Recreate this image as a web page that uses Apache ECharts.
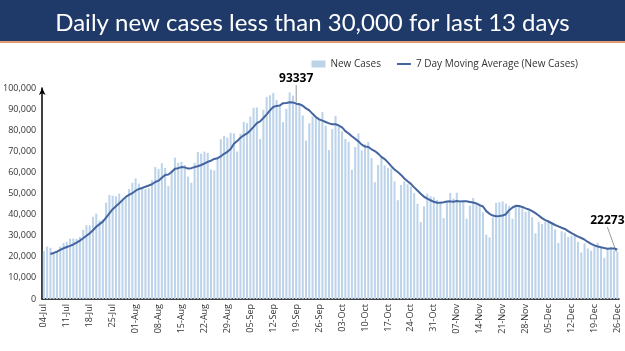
<!DOCTYPE html>
<html>
<head>
<meta charset="utf-8">
<script src="https://cdn.jsdelivr.net/npm/echarts@6/dist/echarts.min.js"></script>
<style>
  html, body { margin: 0; padding: 0; background: #fff; }
  #chart { width: 625px; height: 351px; }
</style>
</head>
<body>
<div id="chart"></div>
<script>
// daily new cases, 04-Jul .. 26-Dec
const julCases = [22771, 24850, 24248, 22252, 22752, 24879, 26506, 27114, 28637, 28701, 28498, 29429, 32695, 34956,
  34884, 38902, 40425, 37148, 37724, 45720, 49310, 48916, 48661, 49931, 47703, 48513, 52123, 55078];
const augCases = [57118, 54735, 52972, 52050, 52509, 56282, 62538, 61537, 64399, 62064, 53601, 60963, 66999, 64553,
  65002, 63490, 57981, 55079, 64531, 69652, 68898, 69878, 69239, 61408, 60975, 67151, 75760, 77266, 76472, 78761, 78512];
const sepCases = [69921, 78357, 83883, 83341, 86432, 90632, 90802, 75809, 89706, 95735, 96551, 97570, 94372, 92071,
  83809, 90123, 97894, 96424, 93337, 92605, 86961, 75083, 83347, 86508, 86052, 85362, 88600, 82170, 70589, 80472];
const octCases = [86821, 81484, 79476, 75829, 74442, 61267, 72049, 78524, 70496, 73272, 74383, 66732, 55342, 63509,
  67708, 63371, 62212, 61871, 55722, 46790, 54044, 55839, 54366, 53370, 50129, 45148, 36469, 43893, 49881, 48648, 48268];
const novCases = [46963, 45231, 38310, 46253, 50210, 47638, 50356, 45674, 45903, 38073, 44281, 47905, 44879, 44684,
  41100, 30548, 29163, 38617, 45576, 45882, 46232, 45209, 44059, 37975, 44376, 44489, 43082, 41322, 41810, 38772];
const decCases = [31118, 36604, 35551, 36595, 36652, 36011, 32981, 26567, 32080, 31521, 29398, 30006, 30254, 27071,
  22065, 26382, 24010, 22890, 25152, 26624, 24337, 19556, 23950, 24712, 23067, 22273];

// 7 day moving average (starts 06-Jul)
const julAvg = [null, null, 21299, 21832, 22418, 23236, 24037, 24657, 25198, 25834, 26727, 27681, 28797, 30004,
  31114, 32581, 34256, 35491, 36676, 38537, 40588, 42592, 43986, 45344, 46852, 48393, 49308, 50132];
const augAvg = [51304, 52172, 52606, 53227, 53798, 54392, 55458, 56089, 57470, 58768, 58990, 60198, 61729, 62017,
  62512, 62382, 61798, 62010, 62519, 62898, 63519, 64216, 65037, 65526, 66369, 66743, 67616, 68811, 69753, 71113, 73557];
const sepAvg = [74835, 76436, 77596, 78464, 79887, 81583, 83338, 84179, 85801, 87494, 89381, 90972, 91506, 91688,
  92831, 92890, 93199, 93180, 92576, 92323, 91593, 90347, 89379, 87752, 86270, 85131, 84559, 83875, 83233, 82822];
const octAvg = [82867, 82214, 81373, 79549, 78445, 77113, 75910, 74724, 73155, 72268, 72062, 70960, 70114, 68894,
  67349, 66331, 64751, 62964, 61391, 60169, 58817, 57121, 55835, 54572, 52894, 51384, 49909, 48459, 47608, 46791, 46062];
const novAvg = [45610, 45622, 45885, 46222, 46269, 46125, 46423, 46239, 46335, 46301, 46019, 45690, 45296, 44486,
  43832, 41639, 40366, 39557, 39224, 39367, 39588, 40175, 42105, 43364, 44187, 44032, 43632, 42930, 42445, 41689];
const decAvg = [40710, 39600, 38323, 37396, 36729, 35900, 35073, 34423, 33777, 33201, 32173, 31223, 30401, 29557,
  28914, 28100, 27027, 26097, 25403, 24885, 24494, 24136, 23788, 23889, 23914, 23503];

const months = [['Jul', 4, 31], ['Aug', 1, 31], ['Sep', 1, 30], ['Oct', 1, 31], ['Nov', 1, 30], ['Dec', 1, 26]];
const newCases = [].concat(julCases, augCases, sepCases, octCases, novCases, decCases);
const movingAvg = [].concat(julAvg, augAvg, sepAvg, octAvg, novAvg, decAvg);
const callouts = { '19-Sep': '93337', '26-Dec': '22273' };

const dates = [];
months.forEach(([m, from, to]) => {
  for (let d = from; d <= to; d++) dates.push((d < 10 ? '0' + d : '' + d) + '-' + m);
});

const barData = newCases.map((v, i) => {
  const lbl = callouts[dates[i]];
  if (!lbl) return v;
  return {
    value: v,
    label: { show: true, position: 'top', formatter: lbl, color: '#000', fontWeight: 'bold',
      fontSize: 12, fontFamily: 'Open Sans' },
    labelLine: { show: true, lineStyle: { color: '#999', width: 1 } }
  };
});

let myChart = echarts.init(document.getElementById('chart'));
myChart.setOption({
  animation: false,
  title: {
    text: 'Daily new cases less than 30,000 for last 13 days',
    left: 'center',
    top: 6,
    textStyle: { color: '#fff', fontSize: 24, fontWeight: 'normal', fontFamily: 'Lato' }
  },
  graphic: [
    { type: 'rect', z: -1, shape: { x: 0, y: 0, width: 625, height: 41 }, style: { fill: '#1f3a68' } },
    { type: 'rect', z: -1, shape: { x: 0, y: 41, width: 625, height: 2 }, style: { fill: '#e59a72' } }
  ],
  legend: {
    right: 42,
    top: 54,
    itemGap: 16,
    itemWidth: 14,
    itemHeight: 7,
    textStyle: { fontSize: 10, color: '#333', fontFamily: 'Open Sans' },
    data: [
      { name: 'New Cases', icon: 'rect' },
      { name: '7 Day Moving Average (New Cases)', icon: 'path://M0,0 L14,0 L14,2 L0,2 Z' }
    ]
  },
  grid: { left: 38, right: 6, top: 88, bottom: 52 },
  xAxis: {
    type: 'category',
    data: dates,
    axisLine: { lineStyle: { color: '#000', width: 1.5 } },
    axisTick: { show: false },
    axisLabel: { interval: 6, rotate: 90, fontSize: 9, color: '#333', margin: 5, fontFamily: 'Open Sans' }
  },
  yAxis: {
    type: 'value',
    min: 0,
    max: 100000,
    interval: 10000,
    splitLine: { show: false },
    axisLine: { show: true, symbol: ['none', 'arrow'], symbolSize: [5, 7], lineStyle: { color: '#000', width: 1.5 } },
    axisTick: { show: false },
    axisLabel: { fontSize: 9, color: '#333', margin: 6, fontFamily: 'Open Sans' }
  },
  series: [
    {
      name: 'New Cases',
      type: 'bar',
      data: barData,
      barWidth: '62%',
      itemStyle: { color: '#bcd3ea' },
      labelLayout: (p) => p.dataIndex === newCases.length - 1 ? { dx: -10, dy: -20 } : { dy: -12 }
    },
    {
      name: '7 Day Moving Average (New Cases)',
      type: 'line',
      data: movingAvg,
      showSymbol: false,
      symbol: 'none',
      lineStyle: { color: '#4565a0', width: 2 },
      itemStyle: { color: '#4565a0' }
    }
  ]
});
</script>
</body>
</html>
